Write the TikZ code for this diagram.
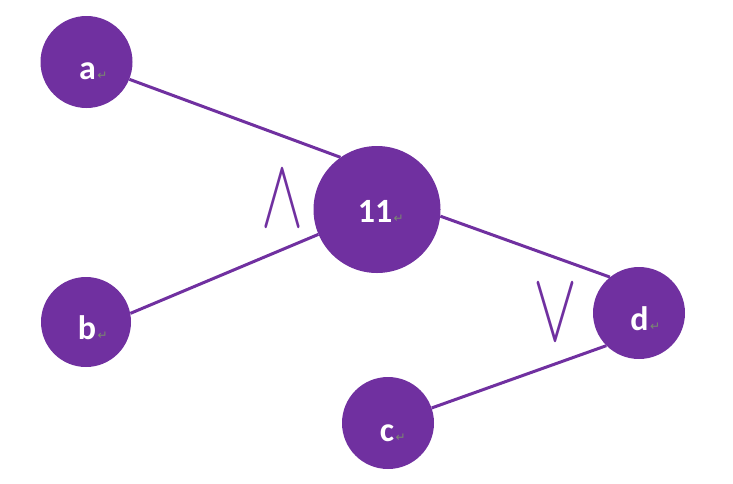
\documentclass[tikz,border=0pt]{standalone}
\usepackage{fontspec}
\setmainfont{Carlito}
\newfontfamily\djv{DejaVu Sans}
\definecolor{purp}{HTML}{7030A0}
\definecolor{retc}{HTML}{7A8A70}
\begin{document}
\begin{tikzpicture}[x=1pt,y=-1pt,
  vtx/.style={circle,fill=purp,inner sep=0pt},
  lbl/.style={text=white,font=\bfseries\fontsize{34}{34}\selectfont,anchor=base,inner sep=0pt},
  ret/.style={text=retc,font=\djv\fontsize{12}{12}\selectfont,anchor=base west,inner sep=0pt},
  edge/.style={draw=purp,line width=3pt},
  op/.style={text=purp,inner sep=0pt}]
\useasboundingbox (0,0) rectangle (733,483);
\node[vtx,minimum size=92pt] (a) at (86.5,62) {};
\node[vtx,minimum size=90pt] (b) at (86,322) {};
\node[vtx,minimum size=127pt] (n11) at (377,209.5) {};
\node[vtx,minimum size=92pt] (d) at (639,313) {};
\node[vtx,minimum size=92pt] (c) at (388,423) {};
\node[lbl] (la) at (87.5,79.5) {a};
\node[lbl] (lb) at (87,339) {b};
\node[lbl] (l11) at (375,222) {11};
\node[lbl] (ld) at (639.5,330) {d};
\node[lbl] (lc) at (387,441) {c};
\foreach \n in {la,lb,l11,ld,lc}{\node[ret] (r\n) at ([xshift=1pt]\n.base east) {↵};}
\draw[edge] (a.-22) -- (n11.125.6);
\draw[edge] (b.11) -- (n11.203);
\draw[edge] (n11.-6) -- (d.129);
\draw[edge] (d.225) -- (c.19);
\node[op] (and) at (282.5,199) {\resizebox{42pt}{55pt}{$\wedge$}};
\node[op] (or) at (556,313) {\resizebox{44pt}{55pt}{$\vee$}};
\end{tikzpicture}
\end{document}
